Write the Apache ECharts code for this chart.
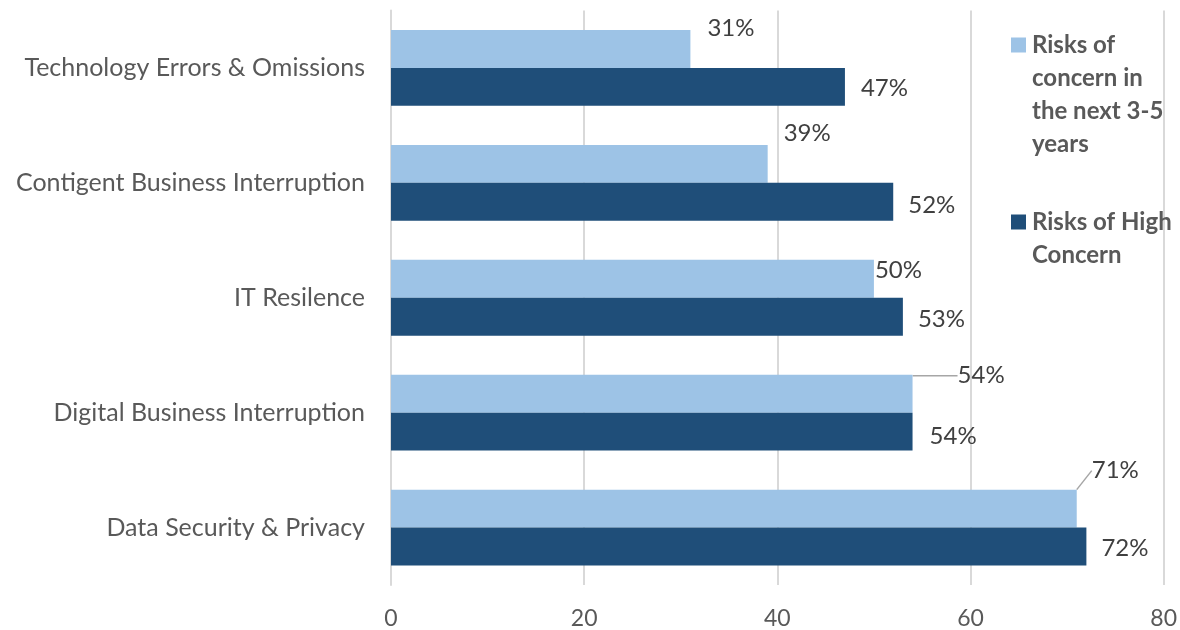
<!DOCTYPE html>
<html>
<head>
<meta charset="utf-8">
<script src="https://cdn.jsdelivr.net/npm/echarts@6/dist/echarts.min.js"></script>
<style>
html,body{margin:0;padding:0;background:#fff;}
#chart{width:1180px;height:630px;}
</style>
</head>
<body>
<div id="chart"></div>
<script>
// Data
const categories = [
  'Technology Errors & Omissions',
  'Contigent Business Interruption',
  'IT Resilence',
  'Digital Business Interruption',
  'Data Security & Privacy'
];
const seriesNames = ['Risks of concern in the next 3-5 years', 'Risks of High Concern'];
const futureConcern = [31, 39, 50, 54, 71];
const highConcern = [47, 52, 53, 54, 72];
const xTicks = [0, 20, 40, 60, 80];

// label placement (style), mimicking manual placement in original
const lightLabelShift = [[17, -21], [16, -31], [1, -9], [45, -18], [15, -38]];
const darkLabelShift = [[16, 1], [15, 3], [15, 3], [17, 5], [15, 2]];
const leaderOn = [false, false, false, true, true];

const legendLines = {
  'Risks of concern in the next 3-5 years': ['Risks of', 'concern in', 'the next 3-5', 'years'],
  'Risks of High Concern': ['Risks of High', 'Concern']
};

const FONT = 'Lato';
const chart = echarts.init(document.getElementById('chart'));

const lightData = futureConcern.map((v, i) => ({
  value: v,
  labelLine: { show: leaderOn[i], lineStyle: { color: '#A6A6A6', width: 1.5 } }
}));

chart.setOption({
  animation: false,
  textStyle: { fontFamily: FONT },
  grid: { left: 391, top: 10.5, width: 774, height: 575, containLabel: false },
  legend: {
    orient: 'vertical',
    left: 1001,
    top: 28,
    icon: 'none',
    itemWidth: 0,
    itemHeight: 0,
    itemGap: 54,
    selectedMode: false,
    data: seriesNames,
    formatter: function (name) {
      const key = name === seriesNames[0] ? 'sq1' : 'sq2';
      return legendLines[name].map((l, i) => (i === 0 ? '{' + key + '| }' : '{sp| }') + '{t|' + l + '}').join('\n');
    },
    textStyle: {
      rich: {
        sq1: { width: 15, height: 15, backgroundColor: '#9DC3E6', verticalAlign: 'middle' },
        sq2: { width: 15, height: 15, backgroundColor: '#1F4E79', verticalAlign: 'middle' },
        sp: { width: 15, height: 15 },
        t: { fontFamily: FONT, fontSize: 24, fontWeight: 'bold', color: '#595959', lineHeight: 33, padding: [0, 0, 0, 6] }
      }
    }
  },
  xAxis: {
    type: 'value',
    min: xTicks[0],
    max: xTicks[xTicks.length - 1],
    interval: xTicks[1] - xTicks[0],
    axisLine: { show: false },
    axisTick: { show: false },
    splitLine: { show: true, lineStyle: { color: '#D9D9D9', width: 2 } },
    axisLabel: { fontFamily: FONT, fontSize: 23, color: '#595959', margin: 22 }
  },
  yAxis: {
    type: 'category',
    inverse: true,
    data: categories,
    axisLine: { show: true, lineStyle: { color: '#D9D9D9', width: 2 } },
    axisTick: { show: false },
    axisLabel: { fontFamily: FONT, fontSize: 25, color: '#595959', margin: 26 }
  },
  series: [
    {
      name: seriesNames[0],
      type: 'bar',
      data: lightData,
      barGap: '0%',
      barCategoryGap: '34%',
      itemStyle: { color: '#9DC3E6' },
      label: {
        show: true, position: 'right', distance: 0,
        formatter: '{c}%', fontFamily: FONT, fontSize: 24, color: '#404040'
      },
      labelLine: { show: false, lineStyle: { color: '#A6A6A6', width: 1.5 } },
      labelLayout: function (p) {
        const s = lightLabelShift[p.dataIndex];
        return { dx: s[0], dy: s[1] };
      }
    },
    {
      name: seriesNames[1],
      type: 'bar',
      data: highConcern,
      barGap: '0%',
      barCategoryGap: '34%',
      itemStyle: { color: '#1F4E79' },
      label: {
        show: true, position: 'right', distance: 0,
        formatter: '{c}%', fontFamily: FONT, fontSize: 24, color: '#404040'
      },
      labelLayout: function (p) {
        const s = darkLabelShift[p.dataIndex];
        return { dx: s[0], dy: s[1] };
      }
    }
  ]
});
</script>
</body>
</html>
